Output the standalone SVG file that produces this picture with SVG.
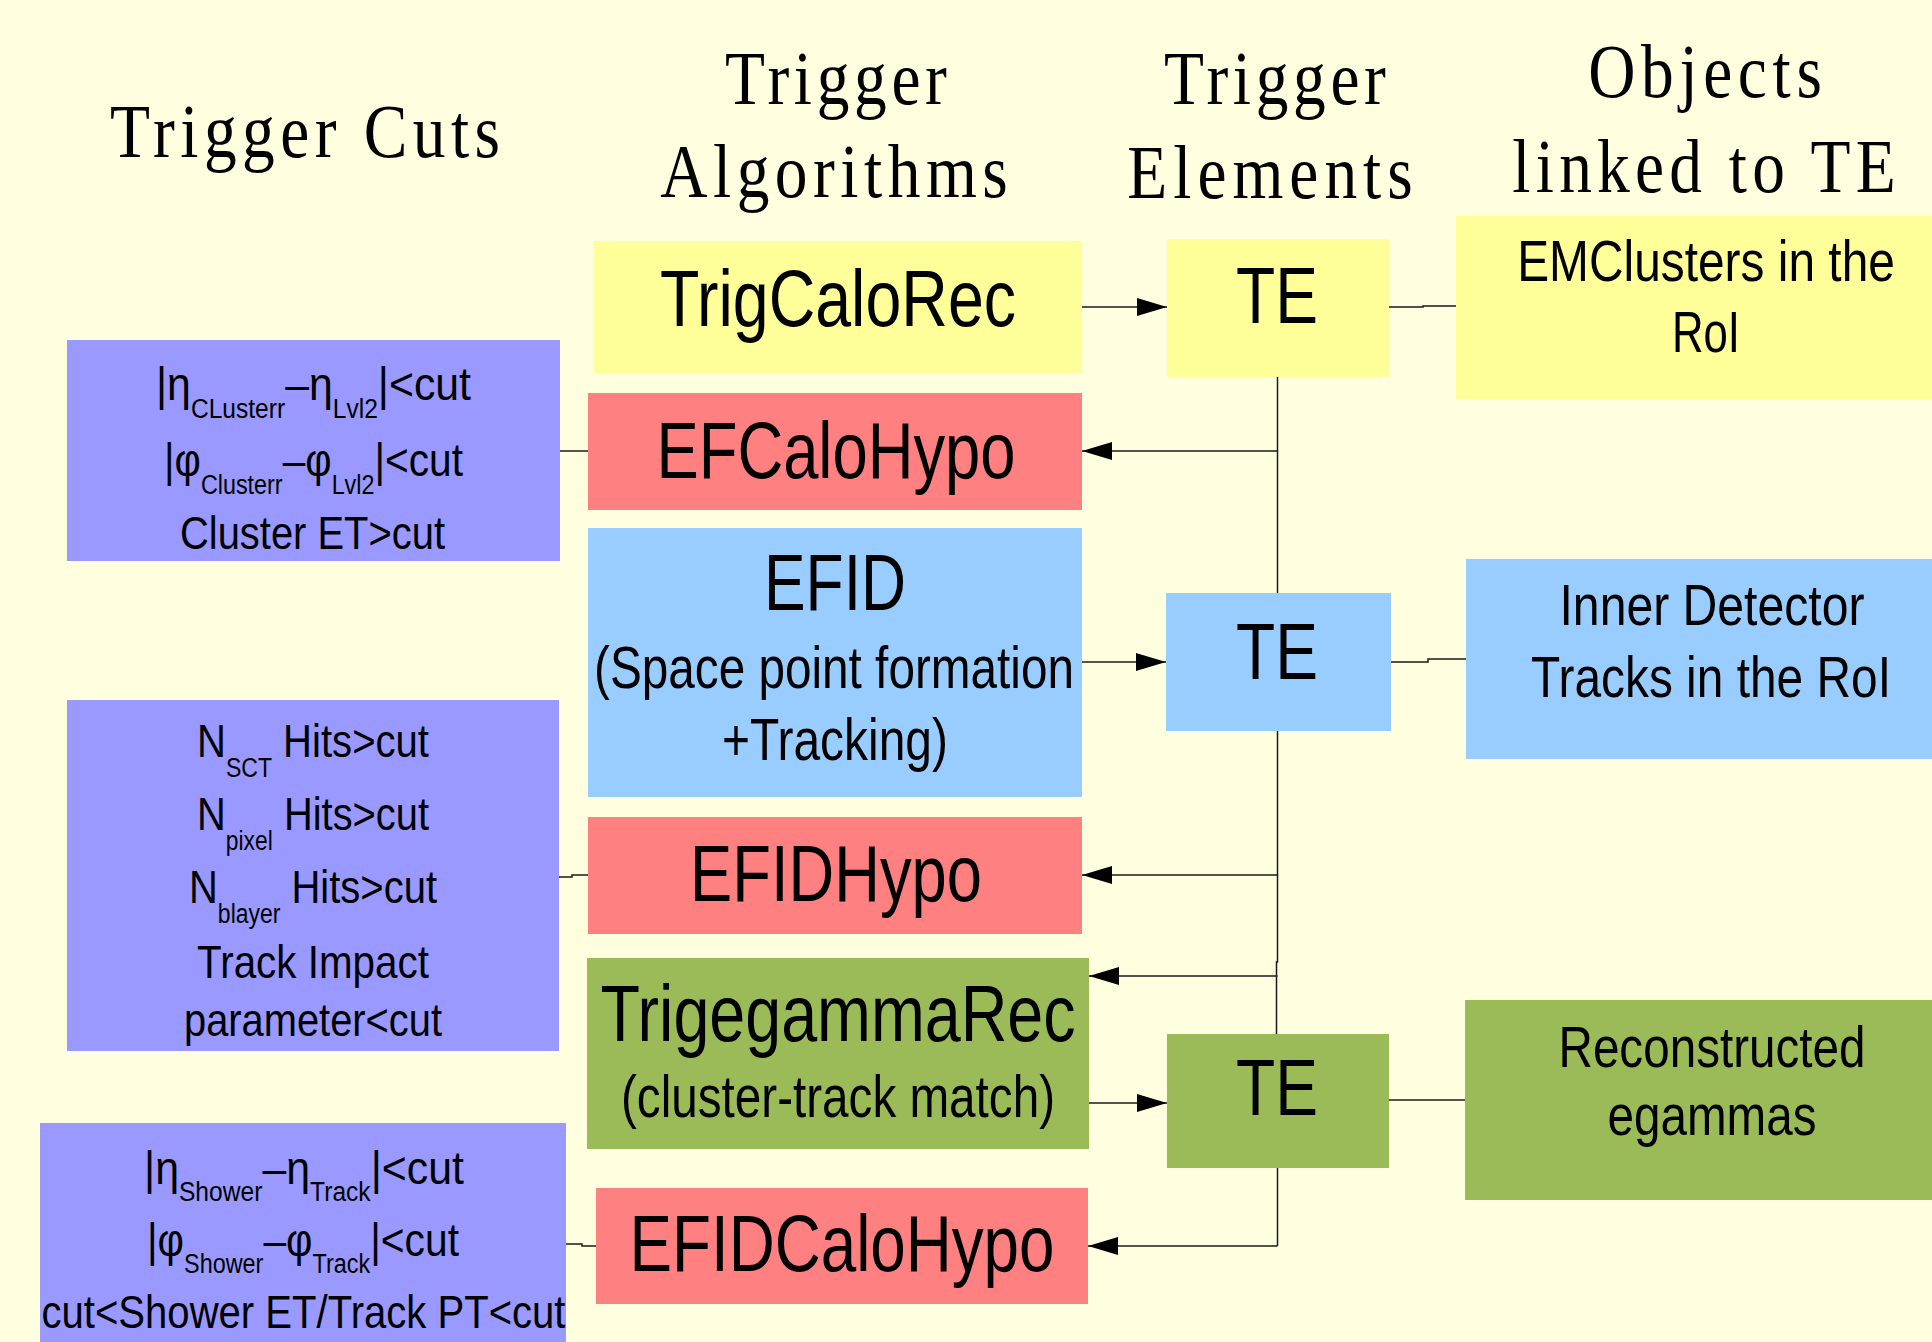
<svg xmlns="http://www.w3.org/2000/svg" width="1932" height="1342" viewBox="0 0 1932 1342">
<style>
.hdr{font-family:"Liberation Serif","Times New Roman",serif;font-size:77px;fill:#000;text-anchor:middle}
.t{font-family:"Liberation Sans",Arial,sans-serif;fill:#000;text-anchor:middle}
.big{font-size:80px}
.mid{font-size:60px}
.obj{font-size:57px}
.cut{font-size:47px}
.sub{font-size:27px}
.yel{fill:#FFFF99}
.red{fill:#FF8080}
.blu{fill:#99CCFF}
.pur{fill:#9999FF}
.grn{fill:#9BBB59}
.conn{stroke:#1a1a1a;stroke-width:1.5;fill:none}
.arr{marker-end:url(#ah)}
</style>
<defs>
<marker id="ah" markerUnits="userSpaceOnUse" viewBox="0 0 30 18" markerWidth="30" markerHeight="18" refX="30" refY="9" orient="auto">
<path d="M0,0 L30,9 L0,18 z" fill="#000"/>
</marker>
</defs>
<rect x="0" y="0" width="1932" height="1342" fill="#FFFFE0"/>

<g id="headers">
<g transform="translate(305,157) scale(0.85,1)"><text class="hdr" x="0" y="0" textLength="459" lengthAdjust="spacing">Trigger Cuts</text></g>
<g transform="translate(836,104) scale(0.85,1)"><text class="hdr" x="0" y="0" textLength="261" lengthAdjust="spacing">Trigger</text></g>
<g transform="translate(834,197) scale(0.85,1)"><text class="hdr" x="0" y="0" textLength="409" lengthAdjust="spacing">Algorithms</text></g>
<g transform="translate(1275,104) scale(0.85,1)"><text class="hdr" x="0" y="0" textLength="261" lengthAdjust="spacing">Trigger</text></g>
<g transform="translate(1270,198) scale(0.85,1)"><text class="hdr" x="0" y="0" textLength="336" lengthAdjust="spacing">Elements</text></g>
<g transform="translate(1705,97) scale(0.85,1)"><text class="hdr" x="0" y="0" textLength="275" lengthAdjust="spacing">Objects</text></g>
<g transform="translate(1704,192) scale(0.85,1)"><text class="hdr" x="0" y="0" textLength="451" lengthAdjust="spacing">linked to TE</text></g>
</g>

<g id="connectors">
<path class="conn arr" d="M1082,307 L1167,307"/>
<path class="conn" d="M1389,307 L1423,307 L1423,306 L1456,306"/>
<path class="conn" d="M1277.5,377 L1277.5,593"/>
<path class="conn arr" d="M1277.5,451 L1082,451"/>
<path class="conn arr" d="M1082,662 L1166,662"/>
<path class="conn" d="M1391,662 L1428,662 L1428,659 L1466,659"/>
<path class="conn" d="M1277.5,731 L1277.5,962 L1276.5,962 L1276.5,1034"/>
<path class="conn arr" d="M1277.5,875 L1082,875"/>
<path class="conn arr" d="M1277.5,976 L1089,976"/>
<path class="conn arr" d="M1089,1103 L1167,1103"/>
<path class="conn" d="M1389,1100 L1465,1100"/>
<path class="conn" d="M1277.5,1168 L1277.5,1246"/>
<path class="conn arr" d="M1277.5,1246 L1088,1246"/>
<path class="conn" d="M560,451 L588,451"/>
<path class="conn" d="M559,877 L572,877 L572,875 L588,875"/>
<path class="conn" d="M566,1244 L582,1244 L582,1246 L596,1246"/>
</g>

<g id="trigcalorec">
<rect class="yel" x="594" y="241" width="488" height="132"/>
<text class="t big" x="838" y="326" textLength="356" lengthAdjust="spacingAndGlyphs">TrigCaloRec</text>
</g>
<g id="te1">
<rect class="yel" x="1167" y="239" width="222" height="138"/>
<text class="t big" x="1277" y="323" textLength="82" lengthAdjust="spacingAndGlyphs">TE</text>
</g>
<g id="emclusters">
<rect class="yel" x="1456" y="216" width="476" height="183"/>
<g transform="translate(1706,281) scale(0.84,1)"><text class="t obj" x="0" y="0">EMClusters in the</text></g>
<text class="t obj" x="1706" y="352" textLength="68" lengthAdjust="spacingAndGlyphs">RoI</text>
</g>

<g id="cuts1">
<rect class="pur" x="67" y="340" width="493" height="221"/>
<text class="t cut" x="313.5" y="400" textLength="315" lengthAdjust="spacingAndGlyphs">|η<tspan class="sub" dy="18">CLusterr</tspan><tspan dy="-18">–η</tspan><tspan class="sub" dy="18">Lvl2</tspan><tspan dy="-18">|&lt;cut</tspan></text>
<text class="t cut" x="313.5" y="476" textLength="299" lengthAdjust="spacingAndGlyphs">|φ<tspan class="sub" dy="18">Clusterr</tspan><tspan dy="-18">–φ</tspan><tspan class="sub" dy="18">Lvl2</tspan><tspan dy="-18">|&lt;cut</tspan></text>
<text class="t cut" x="312.5" y="549" textLength="265" lengthAdjust="spacingAndGlyphs">Cluster ET&gt;cut</text>
</g>
<g id="efcalohypo">
<rect class="red" x="588" y="393" width="494" height="117"/>
<text class="t big" x="836" y="478" textLength="359" lengthAdjust="spacingAndGlyphs">EFCaloHypo</text>
</g>

<g id="efid">
<rect class="blu" x="588" y="528" width="494" height="269"/>
<text class="t big" x="835" y="610" textLength="142" lengthAdjust="spacingAndGlyphs">EFID</text>
<text class="t mid" x="834" y="688" textLength="480" lengthAdjust="spacingAndGlyphs">(Space point formation</text>
<text class="t mid" x="835" y="760" textLength="226" lengthAdjust="spacingAndGlyphs">+Tracking)</text>
</g>
<g id="te2">
<rect class="blu" x="1166" y="593" width="225" height="138"/>
<text class="t big" x="1277" y="679" textLength="82" lengthAdjust="spacingAndGlyphs">TE</text>
</g>
<g id="innerdetector">
<rect class="blu" x="1466" y="559" width="466" height="200"/>
<text class="t obj" x="1712" y="625" textLength="305" lengthAdjust="spacingAndGlyphs">Inner Detector</text>
<g transform="translate(1711,697) scale(0.84,1)"><text class="t obj" x="0" y="0">Tracks in the RoI</text></g>
</g>

<g id="cuts2">
<rect class="pur" x="67" y="700" width="492" height="351"/>
<text class="t cut" x="313" y="757" textLength="232" lengthAdjust="spacingAndGlyphs">N<tspan class="sub" dy="20">SCT</tspan><tspan dy="-20"> Hits&gt;cut</tspan></text>
<text class="t cut" x="313" y="830" textLength="232" lengthAdjust="spacingAndGlyphs">N<tspan class="sub" dy="20">pixel</tspan><tspan dy="-20"> Hits&gt;cut</tspan></text>
<text class="t cut" x="313" y="903" textLength="248" lengthAdjust="spacingAndGlyphs">N<tspan class="sub" dy="20">blayer</tspan><tspan dy="-20"> Hits&gt;cut</tspan></text>
<text class="t cut" x="313" y="978" textLength="232" lengthAdjust="spacingAndGlyphs">Track Impact</text>
<text class="t cut" x="313" y="1036" textLength="258" lengthAdjust="spacingAndGlyphs">parameter&lt;cut</text>
</g>
<g id="efidhypo">
<rect class="red" x="588" y="817" width="494" height="117"/>
<text class="t big" x="836" y="901" textLength="292" lengthAdjust="spacingAndGlyphs">EFIDHypo</text>
</g>

<g id="trigegammarec">
<rect class="grn" x="587" y="958" width="502" height="191"/>
<text class="t big" x="838" y="1041" textLength="475" lengthAdjust="spacingAndGlyphs">TrigegammaRec</text>
<text class="t mid" x="838" y="1117" textLength="434" lengthAdjust="spacingAndGlyphs">(cluster-track match)</text>
</g>
<g id="te3">
<rect class="grn" x="1167" y="1034" width="222" height="134"/>
<text class="t big" x="1277" y="1115" textLength="82" lengthAdjust="spacingAndGlyphs">TE</text>
</g>
<g id="reconstructed">
<rect class="grn" x="1465" y="1000" width="467" height="200"/>
<text class="t obj" x="1712" y="1067" textLength="307" lengthAdjust="spacingAndGlyphs">Reconstructed</text>
<text class="t obj" x="1712" y="1135" textLength="209" lengthAdjust="spacingAndGlyphs">egammas</text>
</g>

<g id="cuts3">
<rect class="pur" x="40" y="1123" width="526" height="219"/>
<text class="t cut" x="304" y="1184" textLength="320" lengthAdjust="spacingAndGlyphs">|η<tspan class="sub" dy="17">Shower</tspan><tspan dy="-17">–η</tspan><tspan class="sub" dy="17">Track</tspan><tspan dy="-17">|&lt;cut</tspan></text>
<text class="t cut" x="303" y="1256" textLength="312" lengthAdjust="spacingAndGlyphs">|φ<tspan class="sub" dy="17">Shower</tspan><tspan dy="-17">–φ</tspan><tspan class="sub" dy="17">Track</tspan><tspan dy="-17">|&lt;cut</tspan></text>
<text class="t cut" x="303.5" y="1328" textLength="524" lengthAdjust="spacingAndGlyphs">cut&lt;Shower ET/Track PT&lt;cut</text>
</g>
<g id="efidcalohypo">
<rect class="red" x="596" y="1188" width="492" height="116"/>
<text class="t big" x="842" y="1271" textLength="425" lengthAdjust="spacingAndGlyphs">EFIDCaloHypo</text>
</g>
</svg>
